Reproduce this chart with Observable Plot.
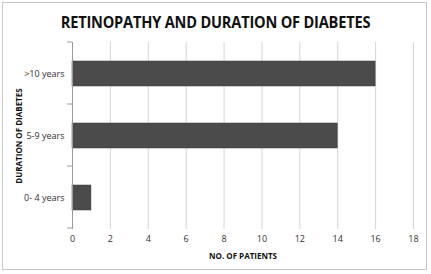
<!DOCTYPE html>
<html><head><meta charset="utf-8">
<script src="https://cdn.jsdelivr.net/npm/d3@7"></script>
<script src="https://cdn.jsdelivr.net/npm/@observablehq/plot@0.6"></script>
<style>
body{margin:0;background:#fff;font-family:"Open Sans",sans-serif;}
#wrap{position:relative;width:431px;height:274px;overflow:hidden;}
#frame{position:absolute;left:2px;top:2px;width:425px;height:268px;border:1px solid #c8c8c8;box-sizing:border-box;}
#title{position:absolute;left:0;top:10px;width:431px;text-align:center;font-weight:700;font-size:14.6px;color:#111;letter-spacing:-0.2px;transform:scaleY(1.14);transform-origin:50% 0;}
#chart{position:absolute;left:0;top:0;}
</style></head>
<body><div id="wrap"><div id="frame"></div><div id="title">RETINOPATHY AND DURATION OF DIABETES</div><div id="chart"></div></div>
<script>
const categories = [">10 years", "5-9 years", "0- 4 years"];
const patients = [16, 14, 1];
const xTicks = [0, 2, 4, 6, 8, 10, 12, 14, 16, 18];
const xLabel = "NO. OF PATIENTS";
const yLabel = "DURATION OF DIABETES";

const data = categories.map((c, i) => ({cat: c, n: patients[i]}));

function boundaryTicks(index, scales, values, dim) {
  const g = d3.create("svg:g");
  const y = scales.y;
  const step = (y && y.step) ? y.step() : (dim.height - dim.marginTop - dim.marginBottom) / categories.length;
  const bounds = d3.range(categories.length + 1).map(i => dim.marginTop + i * step);
  for (const b of bounds) {
    g.append("line").attr("x1", dim.marginLeft - 5).attr("x2", dim.marginLeft)
      .attr("y1", b).attr("y2", b).attr("stroke", "#9a9a9a");
  }
  return g.node();
}

const plot = Plot.plot({
  width: 431, height: 274,
  marginTop: 42, marginBottom: 45, marginLeft: 72, marginRight: 18,
  style: {fontFamily: "Open Sans, sans-serif", fontSize: "9px", color: "#333", background: "transparent"},
  x: {domain: [0, 18], ticks: xTicks, label: null, tickSize: 0, tickPadding: 6},
  y: {domain: categories, label: null, paddingInner: 0.6, paddingOuter: 0.3, tickSize: 0, tickPadding: 8},
  marks: [
    Plot.gridX(xTicks.filter(d => d > 0), {stroke: "#d4d4d4", strokeOpacity: 1}),
    Plot.barX(data, {x: "n", y: "cat", fill: "#4b4b4b", stroke: "#3a3a3a", strokeWidth: 0.5}),
    Plot.ruleX([0], {stroke: "#9a9a9a"}),
    Plot.ruleY([0], {frameAnchor: "bottom", stroke: "#9a9a9a"}),
    boundaryTicks,
    Plot.axisX({ticks: xTicks, tickSize: 0, tickPadding: 6, label: null, fontSize: 9}),
    Plot.axisY({tickSize: 0, tickPadding: 8, label: null, fontSize: 9}),
    Plot.text([xLabel], {frameAnchor: "bottom", dy: 29, fontWeight: "bold", fontSize: 8, fill: "#111"}),
    Plot.text([yLabel], {frameAnchor: "left", dx: -53, rotate: -90, textAnchor: "middle", fontWeight: "bold", fontSize: 8, fill: "#111"})
  ]
});
document.getElementById("chart").append(plot);
</script></body></html>
